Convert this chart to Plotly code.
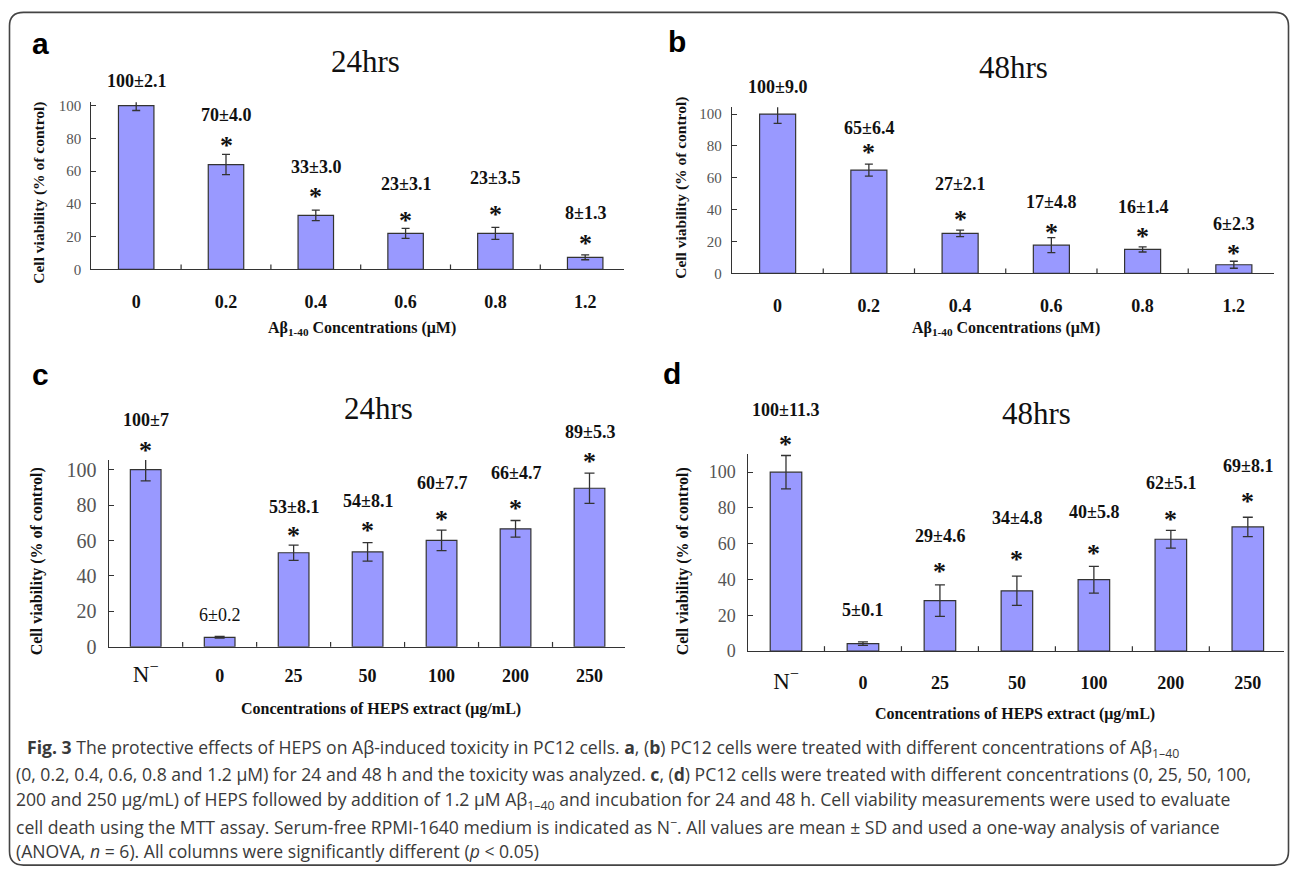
import plotly.graph_objects as go

W, H = 1290, 881

# ---------------- data ----------------
cats_ab = ["0", "0.2", "0.4", "0.6", "0.8", "1.2"]
cats_cd = ["N-", "0", "25", "50", "100", "200", "250"]

a_vals = [100, 64, 33, 22, 22, 7.4]
a_err = [3.0, 6.2, 3.2, 3.0, 3.7, 1.5]
b_vals = [100, 64.8, 25.1, 17.7, 15, 5.4]
b_err = [5.9, 3.8, 2.0, 4.7, 1.6, 2.2]
c_vals = [100, 5.4, 53.1, 53.6, 60.1, 66.6, 89.5]
c_err = [6.3, 0.5, 4.3, 5.2, 5.8, 4.7, 8.5]
d_vals = [100, 4.2, 28.2, 33.7, 39.9, 62.5, 69.4]
d_err = [9.3, 1.0, 8.8, 8.2, 7.5, 5.0, 5.4]

a_labels = ["100±2.1", "70±4.0", "33±3.0", "23±3.1", "23±3.5", "8±1.3"]
b_labels = ["100±9.0", "65±6.4", "27±2.1", "17±4.8", "16±1.4", "6±2.3"]
c_labels = ["100±7", "6±0.2", "53±8.1", "54±8.1", "60±7.7", "66±4.7", "89±5.3"]
d_labels = ["100±11.3", "5±0.1", "29±4.6", "34±4.8", "40±5.8", "62±5.1", "69±8.1"]

a_star = [False, True, True, True, True, True]
b_star = [False, True, True, True, True, True]
c_star = [True, False, True, True, True, True, True]
d_star = [True, False, True, True, True, True, True]

# label heights (layout, in axis units)
a_lab_y = [115.2, 94.2, 62.4, 52.2, 55.8, 34.2]
a_star_y = [None, 79.2, 48.0, 33.6, 37.2, 19.2]
b_lab_y = [116.7, 91.4, 56.2, 45.1, 41.4, 30.9]
b_star_y = [None, 79.6, 37.7, 29.6, 27.2, 16.0]
c_lab_y = [128.1, 17.9, 78.9, 82.3, 92.2, 98.3, 121.5]
c_star_y = [114.3, None, 66.0, 68.8, 75.3, 81.7, 108.2]
d_lab_y = [134.9, 22.9, 64.1, 74.2, 77.8, 93.7, 103.5]
d_star_y = [119.0, None, 48.1, 54.6, 58.0, 76.9, 87.0]

SERIF = "Liberation Serif"
SANS = "Liberation Sans"
BAR = "#9999ff"
LINE = "#333333"

def xd(p0, p1):
    return [p0 / W, p1 / W]

def yd(top, bot):
    return [1 - bot / H, 1 - top / H]

panels = [
    dict(key="", cats=cats_ab, vals=a_vals, err=a_err, labels=a_labels, star=a_star,
         laby=a_lab_y, stary=a_star_y, xpx=(91.3, 623.8), xr=[-0.5, 5.43],
         ypx=(100, 270), yr=[0, 102], bw=0.395, cap=4, ytf=15, xtf=18, xstand=16, ystand=6),
    dict(key="2", cats=cats_ab, vals=b_vals, err=b_err, labels=b_labels, star=b_star,
         laby=b_lab_y, stary=b_star_y, xpx=(732, 1274), xr=[-0.5, 5.44],
         ypx=(105, 274), yr=[0, 104.3], bw=0.395, cap=4, ytf=15, xtf=18, xstand=16, ystand=6),
    dict(key="3", cats=cats_cd, vals=c_vals, err=c_err, labels=c_labels, star=c_star,
         laby=c_lab_y, stary=c_star_y, xpx=(108.7, 625), xr=[-0.5, 6.48],
         ypx=(464, 654), yr=[0, 105.4], bw=0.415, cap=5, ytf=20, xtf=18, xstand=12, ystand=7),
    dict(key="4", cats=cats_cd, vals=d_vals, err=d_err, labels=d_labels, star=d_star,
         laby=d_lab_y, stary=d_star_y, xpx=(747.5, 1284), xr=[-0.5, 6.47],
         ypx=(457.7, 658.3), yr=[0, 110.2], bw=0.41, cap=5, ytf=18, xtf=18, xstand=15, ystand=7),
]

fig = go.Figure()
annotations = []
shapes = []
layout_axes = {}

for p in panels:
    k = p["key"]
    xa, ya = "x" + k, "y" + k
    fig.add_trace(go.Bar(
        x=p["cats"], y=p["vals"], xaxis=xa, yaxis=ya, width=p["bw"],
        marker=dict(color=BAR, line=dict(color=LINE, width=1.2)),
        error_y=dict(type="data", array=p["err"], color=LINE, thickness=1.3, width=p["cap"]),
        showlegend=False, hoverinfo="skip",
    ))
    ticktext = []
    for c in p["cats"]:
        if c == "N-":
            ticktext.append("<span style='font-size:23px;font-weight:normal'>N<sup>−</sup></span>")
        else:
            ticktext.append(c)
    layout_axes["xaxis" + k] = dict(
        domain=xd(*p["xpx"]), anchor=ya, type="category", range=p["xr"],
        categoryorder="array", categoryarray=p["cats"],
        tickmode="array", tickvals=p["cats"], ticktext=ticktext,
        showline=True, linecolor=LINE, linewidth=1.3, ticks="", showgrid=False, zeroline=False,
        tickfont=dict(family=SERIF, size=p["xtf"], color="#111", weight="bold"),
        ticklabelstandoff=p["xstand"], fixedrange=True,
    )
    layout_axes["yaxis" + k] = dict(
        domain=yd(*p["ypx"]), anchor=xa, range=p["yr"], tickmode="linear", tick0=0, dtick=20,
        showline=True, linecolor=LINE, linewidth=1.3, ticks="inside", ticklen=5,
        tickcolor=LINE, tickwidth=1.2, showgrid=False, zeroline=False,
        tickfont=dict(family=SERIF, size=p["ytf"], color="#555"),
        ticklabelstandoff=p["ystand"], fixedrange=True,
    )

    # pixel mapping of this panel (labels sit above the plotting range)
    ytop, ybot = p["ypx"]
    ppu = (ybot - ytop) / (p["yr"][1] - p["yr"][0])

    def ypaper(v, ybot=ybot, ppu=ppu):
        return 1 - (ybot - v * ppu) / H

    for i, c in enumerate(p["cats"]):
        lab = p["labels"][i]
        bold = lab != "6±0.2"
        annotations.append(dict(
            x=i, y=ypaper(p["laby"][i]), xref=xa, yref="paper", showarrow=False,
            xanchor="center", yanchor="middle",
            text=("<b>%s</b>" % lab) if bold else lab,
            font=dict(family=SERIF, size=18, color="#111"),
        ))
        if p["star"][i]:
            annotations.append(dict(
                x=i, y=ypaper(p["stary"][i]), xref=xa, yref="paper", showarrow=False,
                xanchor="center", yanchor="middle", yshift=-6,
                text="<b>*</b>", font=dict(family=SERIF, size=26, color="#111"),
            ))

    # category-boundary tick marks (inside, pointing up)
    n = len(p["cats"])
    x0 = p["xpx"][0]
    step = (p["xpx"][1] - p["xpx"][0]) / (p["xr"][1] - p["xr"][0])
    for i in range(1, n):
        px = x0 + i * step
        shapes.append(dict(type="line", xref="paper", yref="paper",
                           x0=px / W, x1=px / W, y0=1 - ybot / H, y1=1 - (ybot - 5) / H,
                           line=dict(color=LINE, width=1.2)))

fig.update_layout(**layout_axes)

def pa(x, y, text, size, family=SERIF, color="#111", angle=0, xanchor="center"):
    annotations.append(dict(x=x / W, y=1 - y / H, xref="paper", yref="paper", text=text,
                            showarrow=False, textangle=angle, xanchor=xanchor, yanchor="middle",
                            font=dict(family=family, size=size, color=color)))

# panel letters
pa(40, 40, "<b>a</b>", 30, SANS, "#000")
pa(677, 38, "<b>b</b>", 30, SANS, "#000")
pa(40, 377, "<b>c</b>", 30, SANS, "#000")
pa(672, 376, "<b>d</b>", 30, SANS, "#000")

# panel titles
pa(365, 58, "24hrs", 31)
pa(1013, 65, "48hrs", 31)
pa(378, 412, "24hrs", 31)
pa(1036, 417, "48hrs", 31)

# y-axis titles
ytitle = "<b>Cell viability (% of control)</b>"
pa(39, 192, ytitle, 15.5, angle=-90)
pa(681, 187, ytitle, 15.5, angle=-90)
pa(37, 567, ytitle, 16, angle=-90)
pa(683, 567, ytitle, 16, angle=-90)

# x-axis titles
xt_ab = "<b>Aβ<sub>1-40</sub> Concentrations (μM)</b>"
xt_cd = "<b>Concentrations of HEPS extract (μg/mL)</b>"
pa(362, 330, xt_ab, 16)
pa(1006, 330, xt_ab, 16)
pa(381, 717, xt_cd, 16)
pa(1015, 722, xt_cd, 16)

# caption
CAP = "Open Sans"
capc = "#3a3a3a"
cap_lines = [
    (25, 757, "<b>Fig. 3</b> The protective effects of HEPS on Aβ-induced toxicity in PC12 cells. <b>a</b>, (<b>b</b>) PC12 cells were treated with different concentrations of Aβ<sub>1–40</sub>"),
    (14, 783.5, "(0, 0.2, 0.4, 0.6, 0.8 and 1.2 μM) for 24 and 48 h and the toxicity was analyzed. <b>c</b>, (<b>d</b>) PC12 cells were treated with different concentrations (0, 25, 50, 100,"),
    (14, 810, "200 and 250 μg/mL) of HEPS followed by addition of 1.2 μM Aβ<sub>1–40</sub> and incubation for 24 and 48 h. Cell viability measurements were used to evaluate"),
    (14, 836.5, "cell death using the MTT assay. Serum-free RPMI-1640 medium is indicated as N<sup>−</sup>. All values are mean ± SD and used a one-way analysis of variance"),
    (14, 862, "(ANOVA, <i>n</i> = 6). All columns were significantly different (<i>p</i> &lt; 0.05)"),
]
for x, y, t in cap_lines:
    pa(x, y, t, 17.6, CAP, capc, xanchor="left")

# rounded frame
L, T, R, B, r = 9.5, 8.5, 1288.5, 876, 14
def fx(v): return v / W
def fy(v): return 1 - v / H
path = (f"M {fx(L + r)},{fy(T)} L {fx(R - r)},{fy(T)} Q {fx(R)},{fy(T)} {fx(R)},{fy(T + r)} "
        f"L {fx(R)},{fy(B - r)} Q {fx(R)},{fy(B)} {fx(R - r)},{fy(B)} "
        f"L {fx(L + r)},{fy(B)} Q {fx(L)},{fy(B)} {fx(L)},{fy(B - r)} "
        f"L {fx(L)},{fy(T + r)} Q {fx(L)},{fy(T)} {fx(L + r)},{fy(T)} Z")
shapes.append(dict(type="path", xref="paper", yref="paper", path=path,
                   line=dict(color="#444", width=1.6)))

fig.update_layout(
    width=W, height=H, autosize=False,
    margin=dict(l=0, r=0, t=0, b=0),
    paper_bgcolor="white", plot_bgcolor="white",
    annotations=annotations, shapes=shapes,
    bargap=0.6, showlegend=False,
)

fig.write_html("out.html", config={"displayModeBar": False})
